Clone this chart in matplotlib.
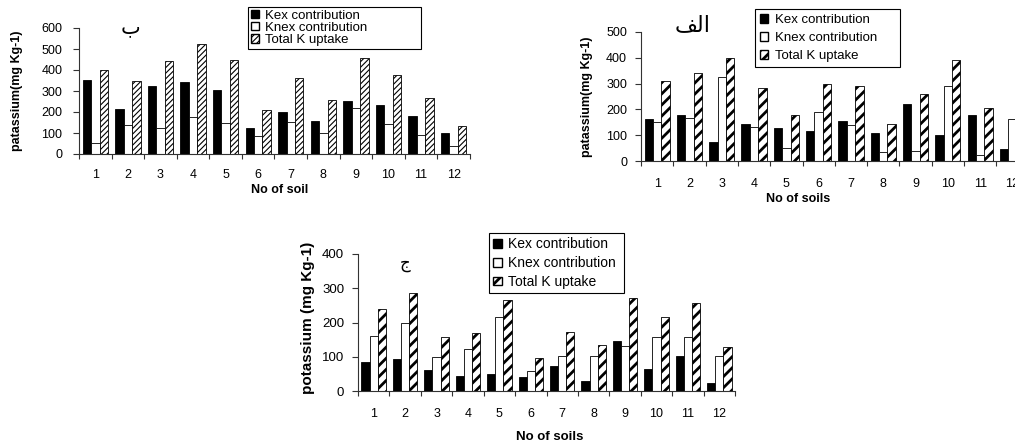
import matplotlib
matplotlib.use("Agg")
import matplotlib.pyplot as plt
from matplotlib.patches import Patch
import numpy as np

plt.rcParams['font.family'] = ['Liberation Sans', 'DejaVu Sans']

soils = [str(i) for i in range(1, 13)]
series_names = ["Kex contribution", "Knex contribution", "Total K uptake"]

# Chart "ب" (top left)
b_kex = [354, 215, 325, 344, 304, 124, 202, 156, 253, 232, 182, 102]
b_knex = [54, 137, 123, 178, 150, 86, 154, 100, 218, 143, 91, 40]
b_total = [400, 349, 443, 524, 449, 209, 361, 255, 457, 376, 266, 134]

# Chart "الف" (top right)
a_kex = [162, 178, 75, 145, 128, 115, 155, 110, 220, 100, 180, 48]
a_knex = [150, 168, 325, 132, 52, 190, 138, 35, 40, 292, 25, 162]
a_total = [312, 343, 400, 282, 180, 300, 292, 145, 260, 390, 207, 212]

# Chart "ج" (bottom)
j_kex = [85, 92, 60, 45, 50, 40, 72, 30, 145, 63, 103, 22]
j_knex = [160, 200, 98, 122, 216, 58, 102, 102, 132, 157, 157, 102]
j_total = [240, 287, 157, 168, 265, 95, 172, 133, 272, 217, 258, 128]

W, H = 1015, 447
fig = plt.figure(figsize=(W / 100, H / 100), dpi=100)


def px_axes(x0, y_top, x1, y_bot):
    return fig.add_axes([x0 / W, 1 - y_bot / H, (x1 - x0) / W, (y_bot - y_top) / H])


def set_hlw(patches, lw):
    for p in patches:
        if hasattr(p, "set_hatch_linewidth"):
            p.set_hatch_linewidth(lw)


def draw(ax, kex, knex, total, ymax, ystep, hatch, hatch_lw, xfs, yfs, xpad, ypad):
    x = np.arange(1, len(soils) + 1)
    bw = 0.26
    ax.bar(x - bw, kex, bw, color='black', edgecolor='black', linewidth=0.6)
    ax.bar(x, knex, bw, color='white', edgecolor='black', linewidth=0.6)
    with plt.rc_context({'hatch.linewidth': hatch_lw}):
        bars = ax.bar(x + bw, total, bw, color='white', edgecolor='black',
                      linewidth=0.6, hatch=hatch)
    set_hlw(bars, hatch_lw)
    ax.set_xlim(0.5, len(soils) + 0.5)
    ax.set_ylim(0, ymax)
    ax.set_yticks(np.arange(0, ymax + 1, ystep))
    ax.set_xticks(np.arange(0.5, len(soils) + 1, 1.0))
    ax.set_xticklabels([])
    ax.set_xticks(x, minor=True)
    ax.set_xticklabels(soils, minor=True)
    ax.tick_params(axis='x', which='major', direction='out', length=3.5, width=0.8,
                   color='#333333')
    ax.tick_params(axis='x', which='minor', length=0, pad=xpad, labelsize=xfs)
    ax.tick_params(axis='y', direction='out', length=4, width=0.8, labelsize=yfs,
                   pad=ypad, color='#333333')
    for s in ['top', 'right']:
        ax.spines[s].set_visible(False)
    for s in ['left', 'bottom']:
        ax.spines[s].set_linewidth(0.8)
        ax.spines[s].set_color('#333333')
    return ax


def add_legend(x0, y0, x1, y1, hatch, hatch_lw, fs, spacing, bpad):
    hs = [Patch(facecolor='black', edgecolor='black'),
          Patch(facecolor='white', edgecolor='black'),
          Patch(facecolor='white', edgecolor='black', hatch=hatch)]
    with plt.rc_context({'hatch.linewidth': hatch_lw}):
        leg = fig.legend(hs, series_names, loc='upper left',
                         bbox_to_anchor=(x0 / W, 1 - y1 / H, (x1 - x0) / W, (y1 - y0) / H),
                         mode='expand', fontsize=fs, frameon=True, fancybox=False,
                         edgecolor='black', framealpha=1, borderpad=bpad,
                         labelspacing=spacing, handlelength=0.6, handleheight=0.6,
                         handletextpad=0.5, borderaxespad=0)
    set_hlw(leg.get_patches(), hatch_lw)
    leg.get_frame().set_linewidth(0.8)
    return leg


# Top-left
ax1 = px_axes(79, 28, 470, 154)
draw(ax1, b_kex, b_knex, b_total, 600, 100, '//////', 0.8, 9, 9, 11, 8)
ax1.set_ylabel("patassium(mg Kg-1)", fontsize=9, fontweight='bold')
ax1.yaxis.set_label_coords((23 - 79) / 391, 0.5)
ax1.set_xlabel("No of soil", fontsize=9, fontweight='bold')
ax1.xaxis.set_label_coords((280 - 79) / 391, -(184 - 154) / 126)
ax1.text(130, H - 27, "\u0628", transform=None, fontsize=15, family=['DejaVu Sans'],
         ha='center', va='center')
add_legend(248, 7, 421, 52, '//////', 0.8, 9.5, 0.02, 0.2)

# Top-right
ax2 = px_axes(641, 32, 641 + 12 * 32.3, 161)
draw(ax2, a_kex, a_knex, a_total, 500, 100, '///', 2.0, 9, 9, 12, 6)
ax2.set_ylabel("patassium(mg Kg-1)", fontsize=9, fontweight='bold')
ax2.yaxis.set_label_coords((593 - 641) / (12 * 32.3), 0.5)
ax2.set_xlabel("No of soils", fontsize=9, fontweight='bold')
ax2.xaxis.set_label_coords((798 - 641) / (12 * 32.3), -(193 - 161) / 129)
ax2.text(693, H - 25, "\uFED2\uFEDF\uFE8D", transform=None, fontsize=16,
         family=['DejaVu Sans'], ha='center', va='center')
add_legend(755, 9, 900, 64, '///', 2.0, 9.5, 0.45, 0.4)

# Bottom
ax3 = px_axes(358, 254, 735, 391)
draw(ax3, j_kex, j_knex, j_total, 400, 100, '///', 2.0, 9, 9.5, 12, 6)
ax3.set_ylabel("potassium (mg Kg-1)", fontsize=11, fontweight='bold')
ax3.yaxis.set_label_coords((315 - 358) / 377, (391 - 318) / 137)
ax3.set_xlabel("No of soils", fontsize=9.5, fontweight='bold')
ax3.xaxis.set_label_coords((550 - 358) / 377, -(431 - 391) / 137)
ax3.text(405, H - 263, "\u062C", transform=None, fontsize=12,
         family=['DejaVu Sans'], ha='center', va='center')
add_legend(489, 233, 624, 293, '///', 2.0, 10, 0.35, 0.3)

fig.savefig("out.png", dpi=100)
